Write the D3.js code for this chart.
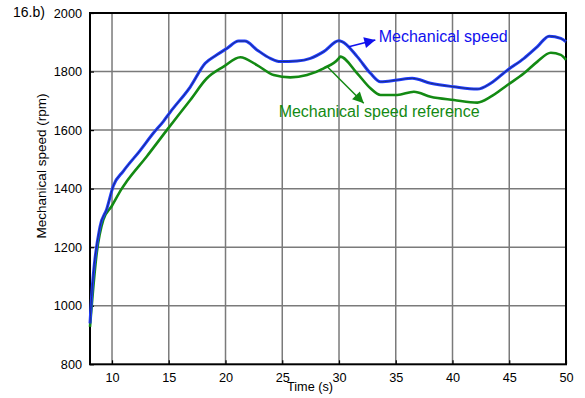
<!DOCTYPE html>
<html>
<head>
<meta charset="utf-8">
<script src="https://cdn.jsdelivr.net/npm/d3@7"></script>
<style>
  body { margin: 0; background: #fff; }
  text { font-family: "Liberation Sans", Arial, sans-serif; }
</style>
</head>
<body>
<div id="chart"></div>
<script>
// data
const speedTime = [8.06, 8.2, 8.94, 9.53, 10.12, 11, 12.47, 13.65, 14.53, 15.1, 16.9, 18.21, 19.24, 20.12, 21.15, 21.7, 22.77, 23.95, 24.83, 26.3, 27.48, 28.65, 29.98, 30.27, 31.6, 32.77, 33.66, 35.13, 36.45, 38.07, 40.13, 42.19, 43.37, 44.84, 46.3, 47.48, 48.51, 49.54, 50];
const speed = [940, 1031, 1270, 1330, 1410, 1460, 1530, 1590, 1630, 1660, 1748, 1828, 1857, 1879, 1904, 1904, 1874, 1845, 1834, 1836, 1845, 1868, 1905, 1902, 1851, 1794, 1765, 1771, 1777, 1760, 1748, 1740, 1760, 1805, 1845, 1885, 1921, 1913, 1902];

const refTime = [8.06, 8.65, 9.23, 9.97, 10.86, 11.3, 13.06, 14.83, 16.9, 18.36, 19.83, 21.3, 22.77, 24.24, 25.71, 27.18, 28.65, 29.98, 30.1, 31.6, 32.77, 33.66, 35.13, 36.6, 38.07, 40.13, 42.19, 43.37, 44.84, 46.3, 47.48, 48.66, 49.54, 50];
const speedRef = [928, 1179, 1293, 1340, 1400, 1425, 1510, 1600, 1703, 1777, 1817, 1849, 1822, 1788, 1780, 1788, 1811, 1845, 1851, 1794, 1743, 1720, 1720, 1731, 1714, 1703, 1694, 1714, 1754, 1794, 1834, 1864, 1857, 1840];

const xTicks = [10, 15, 20, 25, 30, 35, 40, 45, 50];
const yTicks = [800, 1000, 1200, 1400, 1600, 1800, 2000];

// annotations: [text, text x, text y, arrow from x, from y, arrow to x, to y] in data units
const speedNote = ["Mechanical speed", 33.5, 1901, 30.86, 1885, 33.2, 1908];
const refNote = ["Mechanical speed reference", 24.68, 1645, 28.95, 1817, 32.18, 1692];

const width = 585, height = 398;
const m = { left: 90, right: 566, top: 13, bottom: 364.3 };

const svg = d3.select('#chart').append('svg')
  .attr('width', width)
  .attr('height', height);

const x = d3.scaleLinear().domain([8.06, 50]).range([m.left, m.right]);
const y = d3.scaleLinear().domain([800, 2000]).range([m.bottom, m.top]);

// grid
svg.append('g')
  .selectAll('line')
  .data(xTicks.filter(d => d < 50))
  .enter().append('line')
  .attr('x1', d => x(d)).attr('x2', d => x(d))
  .attr('y1', m.top).attr('y2', m.bottom)
  .attr('stroke', '#7a7a7a').attr('stroke-width', 1.5);

svg.append('g')
  .selectAll('line')
  .data(yTicks.filter(d => d > 800 && d < 2000))
  .enter().append('line')
  .attr('x1', m.left).attr('x2', m.right)
  .attr('y1', d => y(d)).attr('y2', d => y(d))
  .attr('stroke', '#7a7a7a').attr('stroke-width', 1.5);

// axes
const xAxis = svg.append('g')
  .attr('transform', `translate(0,${m.bottom})`)
  .call(d3.axisBottom(x).tickValues(xTicks).tickFormat(d3.format('d')).tickSize(-4).tickPadding(9));
const yAxis = svg.append('g')
  .attr('transform', `translate(${m.left},0)`)
  .call(d3.axisLeft(y).tickValues(yTicks).tickFormat(d3.format('d')).tickSize(-4).tickPadding(8));

[xAxis, yAxis].forEach(a => {
  a.select('.domain').remove();
  a.selectAll('.tick line').attr('stroke', '#000').attr('stroke-width', 1.2);
  a.selectAll('.tick text')
    .style('font-family', '"Liberation Sans", Arial, sans-serif')
    .style('font-size', '12.7px')
    .attr('fill', '#000');
});

// frame
svg.append('rect')
  .attr('x', m.left).attr('y', m.top)
  .attr('width', m.right - m.left).attr('height', m.bottom - m.top)
  .attr('fill', 'none').attr('stroke', '#000').attr('stroke-width', 2);

// lines
const line = d3.line()
  .x(d => x(d[0]))
  .y(d => y(d[1]))
  .curve(d3.curveMonotoneX);

const speedPts = speedTime.map((t, i) => [t, speed[i]]);
const refPts = refTime.map((t, i) => [t, speedRef[i]]);

svg.append('path')
  .datum(refPts)
  .attr('d', line)
  .attr('fill', 'none')
  .attr('stroke', '#138a13')
  .attr('stroke-width', 2.6)
  .attr('stroke-linejoin', 'round');

svg.append('path')
  .datum(speedPts)
  .attr('d', line)
  .attr('fill', 'none')
  .attr('stroke', '#1f3cff')
  .attr('stroke-width', 3)
  .attr('stroke-linejoin', 'round');

svg.append('path')
  .datum(speedPts)
  .attr('d', line)
  .attr('fill', 'none')
  .attr('stroke', '#1d2f7a')
  .attr('stroke-width', 1)
  .attr('stroke-linejoin', 'round');

// arrow heads
const defs = svg.append('defs');
function marker(id, color) {
  defs.append('marker')
    .attr('id', id)
    .attr('viewBox', '0 0 10 10')
    .attr('refX', 10).attr('refY', 5)
    .attr('markerUnits', 'userSpaceOnUse')
    .attr('markerWidth', 14).attr('markerHeight', 11)
    .attr('orient', 'auto')
    .append('path')
    .attr('d', 'M0,0 L10,5 L0,10 Z')
    .attr('fill', color);
}
marker('arrowBlue', '#1010ee');
marker('arrowGreen', '#138a13');

function note(n, color, markerId) {
  svg.append('line')
    .attr('x1', x(n[3])).attr('y1', y(n[4]))
    .attr('x2', x(n[5])).attr('y2', y(n[6]))
    .attr('stroke', color).attr('stroke-width', 1.5)
    .attr('marker-end', `url(#${markerId})`);
  svg.append('text')
    .attr('x', x(n[1])).attr('y', y(n[2]))
    .attr('fill', color)
    .style('font-size', '16px')
    .text(n[0]);
}
note(speedNote, '#1010ee', 'arrowBlue');
note(refNote, '#138a13', 'arrowGreen');

// titles
svg.append('text')
  .attr('x', 310).attr('y', 391)
  .attr('text-anchor', 'middle')
  .style('font-size', '12.7px')
  .text('Time (s)');

svg.append('text')
  .attr('transform', 'translate(46,166) rotate(-90)')
  .attr('text-anchor', 'middle')
  .style('font-size', '13.5px')
  .text('Mechanical speed (rpm)');

svg.append('text')
  .attr('x', 13).attr('y', 17)
  .style('font-size', '14px')
  .text('16.b)');
</script>
</body>
</html>
